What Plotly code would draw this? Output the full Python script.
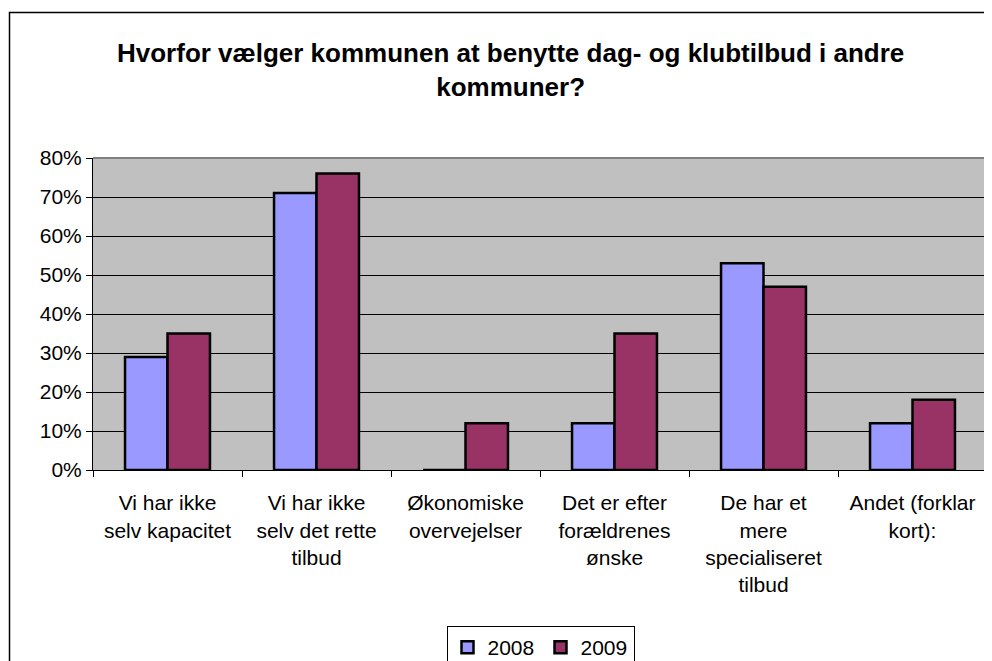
import plotly.graph_objects as go

categories = [
    "Vi har ikke<br>selv kapacitet",
    "Vi har ikke<br>selv det rette<br>tilbud",
    "Økonomiske<br>overvejelser",
    "Det er efter<br>forældrenes<br>ønske",
    "De har et<br>mere<br>specialiseret<br>tilbud",
    "Andet (forklar<br>kort):",
]
values_2008 = [0.29, 0.71, 0.0, 0.12, 0.53, 0.12]
values_2009 = [0.35, 0.76, 0.12, 0.35, 0.47, 0.18]
series_names = ["2008", "2009"]
colors = ["#9999FF", "#993366"]
title_text = "Hvorfor vælger kommunen at benytte dag- og klubtilbud i andre<br>kommuner?"

# page body has an 8px margin; the figure runs past the bottom of the view
OFF = 8
W, H = 992 - OFF, 720
# target screen positions of plot area: left 93, right 987, top 158, bottom 470
ML = 93 - OFF
MT = 158 - OFF
MR = W - (987 - OFF)
MB = H - (470 - OFF)
PW = W - ML - MR
PH = H - MT - MB

def px_x(x):
    return (x - OFF - ML) / PW

def px_y(y):
    return (H - MB - (y - OFF)) / PH

fig = go.Figure()
for name, vals, col in zip(series_names, [values_2008, values_2009], colors):
    fig.add_trace(go.Bar(
        x=categories, y=vals, name=name,
        marker=dict(color=col, line=dict(color="black", width=2.5)),
    ))

font_family = "Liberation Sans, Arial, sans-serif"

fig.update_layout(
    width=W, height=H,
    margin=dict(l=ML, r=MR, t=MT, b=MB),
    paper_bgcolor="white",
    plot_bgcolor="#C0C0C0",
    barmode="group",
    bargap=0.43,
    bargroupgap=0,
    font=dict(family=font_family, size=21, color="black"),
    showlegend=True,
    legend=dict(
        orientation="h", x=px_x(540.5), y=px_y(626), xanchor="center", yanchor="top",
        bordercolor="black", borderwidth=1, bgcolor="white",
        font=dict(size=21), itemwidth=30, tracegroupgap=0,
        entrywidth=48, entrywidthmode="pixels",
    ),
    xaxis=dict(
        showline=True, linecolor="black", linewidth=1,
        ticks="outside", ticklen=6, tickcolor="black", tickson="boundaries",
        showgrid=False, tickfont=dict(size=21), fixedrange=True,
        ticklabelstandoff=14,
    ),
    yaxis=dict(
        range=[0, 0.8], dtick=0.1, tickformat=".0%",
        showline=True, linecolor="black", linewidth=1,
        ticks="outside", ticklen=6, tickcolor="black",
        showgrid=True, gridcolor="black", gridwidth=1,
        tickfont=dict(size=21), zeroline=False, fixedrange=True,
    ),
    annotations=[dict(
        text="<b>" + title_text + "</b>", xref="paper", yref="paper",
        x=px_x(510), y=px_y(70), xanchor="center", yanchor="middle",
        showarrow=False, font=dict(size=26, family=font_family, color="black"),
    )],
    shapes=[
        dict(type="line", xref="paper", yref="paper", x0=0, x1=1, y0=1, y1=1,
             line=dict(color="#808080", width=2)),
        dict(type="line", xref="paper", yref="paper", x0=1, x1=1, y0=0, y1=1,
             line=dict(color="#808080", width=2)),
        dict(type="rect", xref="paper", yref="paper",
             x0=px_x(9.5), x1=px_x(1010), y0=px_y(715), y1=px_y(12.5),
             line=dict(color="black", width=1.5)),
    ],
)

fig.write_html("out.html")
